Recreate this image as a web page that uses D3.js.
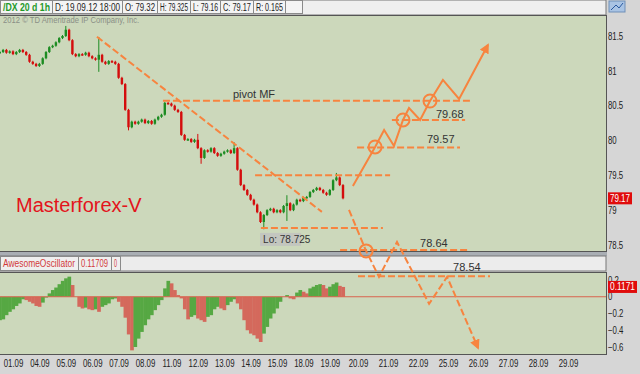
<!DOCTYPE html>
<html>
<head>
<meta charset="utf-8">
<title>DX 1h - Masterforex-V</title>
<script src="https://d3js.org/d3.v7.min.js"></script>
<style>
  body { margin: 0; background: #d6d6d6; }
  svg { display: block; font-family: "Liberation Sans", Arial, sans-serif; }
  .axis text { font-size: 10px; fill: #222; }
  .axis path, .axis line { display: none; }
</style>
</head>
<body>
<svg width="640" height="374"></svg>
<script>
// day labels on the time axis (index = trading day)
var dayLabels = ["01.09", "04.09", "05.09", "06.09", "07.09", "08.09", "11.09", "12.09", "13.09",
  "14.09", "15.09", "18.09", "19.09", "20.09", "21.09", "22.09", "25.09", "26.09", "27.09", "28.09", "29.09"];
var priceTicks = [81.5, 81, 80.5, 80, 79.5, 79, 78.5];
var aoTicks = [0.2, 0, -0.2, -0.4, -0.6];

// closes, one bar every 3 hours
var firstTime = -0.5, barStep = 1 / 8;
var closes = [81.27, 81.30, 81.26, 81.28, 81.24, 81.27, 81.30, 81.27, 81.23, 81.13,
  81.10, 81.07, 81.10, 81.18, 81.27, 81.34, 81.36, 81.41, 81.47, 81.50,
  81.59, 81.44, 81.24, 81.21, 81.24, 81.23, 81.26, 81.21, 81.18, 81.16,
  81.23, 81.13, 81.10, 81.14, 81.13, 81.10, 80.90, 80.81, 80.44, 80.19,
  80.27, 80.24, 80.27, 80.30, 80.25, 80.28, 80.24, 80.30, 80.34, 80.37,
  80.54, 80.53, 80.50, 80.44, 80.41, 80.08, 80.01, 80.02, 79.98, 80.01,
  79.89, 79.75, 79.86, 79.84, 79.89, 79.82, 79.78, 79.81, 79.84, 79.86,
  79.82, 79.89, 79.58, 79.36, 79.29, 79.22, 79.15, 79.08, 78.97, 78.83,
  78.93, 79.00, 79.02, 78.97, 79.00, 78.97, 79.06, 79.10, 79.00, 79.08,
  79.15, 79.13, 79.18, 79.19, 79.26, 79.29, 79.32, 79.29, 79.25, 79.22,
  79.29, 79.43, 79.47, 79.36, 79.17];
// [bar index, high, low] for the visible spikes
var wicks = [[20, 81.63, null], [30, 81.47, 81.00], [39, null, 80.16], [60, 80.08, null],
  [61, null, 79.68], [71, 79.96, null], [80, null, 78.74], [87, 79.20, 78.86], [102, 79.52, null]];

var aoValues = [-0.28, -0.27, -0.22, -0.18, -0.15, -0.11, -0.08, -0.03, -0.04, -0.06,
  -0.08, -0.11, -0.12, -0.07, -0.01, 0.04, 0.08, 0.11, 0.15, 0.19,
  0.22, 0.24, 0.14, 0.00, -0.12, -0.14, -0.13, -0.15, -0.16, -0.15,
  -0.18, -0.12, -0.10, -0.08, -0.03, -0.02, -0.06, -0.12, -0.25, -0.45,
  -0.64, -0.60, -0.50, -0.42, -0.34, -0.27, -0.22, -0.16, -0.10, -0.04,
  0.10, 0.19, 0.16, 0.08, 0.02, -0.02, -0.15, -0.27, -0.24, -0.22,
  -0.26, -0.28, -0.30, -0.24, -0.22, -0.15, -0.12, -0.14, -0.16, -0.10,
  -0.06, -0.03, -0.08, -0.15, -0.28, -0.40, -0.44, -0.46, -0.50, -0.54,
  -0.44, -0.36, -0.26, -0.20, -0.14, -0.06, 0.00, 0.02, -0.02, -0.03,
  0.05, 0.08, 0.06, 0.04, 0.10, 0.12, 0.14, 0.15, 0.14, 0.10,
  0.12, 0.15, 0.17, 0.13, 0.117];

// hand drawn analysis, [day, price]
var trendLine = [[3.18, 81.49], [11.70, 78.975]];
var levelLines = [[5.68, 16.73, 80.57], [9.17, 14.07, 79.50], [9.39, 13.83, 78.745],
  [12.97, 16.40, 79.90], [14.13, 16.57, 80.295], [12.39, 16.73, 78.43], [13.00, 17.40, 78.05]];
var levelLabels = [["pivot MF", 8.33, 80.61], ["79.68", 15.60, 80.32], ["79.57", 15.30, 79.965],
  ["78.64", 15.07, 78.473], ["78.54", 16.17, 78.128]];
var bullPath = [[12.83, 79.348], [13.57, 79.907], [13.87, 80.151], [14.20, 79.922], [14.50, 80.295],
  [14.70, 80.467], [15.07, 80.295], [15.40, 80.567], [15.83, 80.869], [16.37, 80.596], [17.33, 81.371]];
var bullCircles = [[13.57, 79.907], [14.50, 80.295], [15.40, 80.567]];
var bearPath = [[12.70, 79.004], [13.27, 78.415], [13.70, 78.042], [14.30, 78.544],
  [15.37, 77.655], [15.97, 78.042], [17.00, 77.024]];
var bearCircles = [[13.27, 78.415]];
var lowDay = 9.36, lowPrice = 78.745, lowText = "Lo: 78.725";
var lastClose = 79.17, lastAO = 0.1171;

var plotRight = 606, mainTop = 15, mainBottom = 251, aoTop = 272, aoBottom = 354;
var bg = "#ccd8bb", orange = "#f7843f";

var svg = d3.select("svg");

var x = d3.scaleLinear().domain([0, 12.5, 20]).range([13, 343, 568]);
var y = d3.scaleLinear().domain([78.5, 81.5]).range([245, 36]);
var yAO = d3.scaleLinear().domain([-0.6, 0.2]).range([347, 280]);

// squeeze text horizontally, the platform font is narrow
function squeeze(sel, k, maxW) {
  sel.each(function() {
    var w = this.getComputedTextLength() * k;
    if (maxW) w = Math.min(w, maxW);
    d3.select(this).attr("textLength", w).attr("lengthAdjust", "spacingAndGlyphs");
  });
}

// frame
svg.append("rect").attr("width", 640).attr("height", 374).attr("fill", "#d6d6d6");
svg.append("rect").attr("x", 0).attr("y", mainTop).attr("width", plotRight).attr("height", mainBottom - mainTop)
  .attr("fill", bg);
svg.append("rect").attr("x", 0).attr("y", aoTop).attr("width", plotRight).attr("height", aoBottom - aoTop)
  .attr("fill", bg);

// header
var headerCells = [["/DX 20 d 1h", 52], ["D: 19.09.12 18:00", 70], ["O: 79.32", 35], ["H: 79.325", 33],
  ["L: 79.16", 30], ["C: 79.17", 33], ["R: 0.165", 32], ["", 17]];
svg.append("rect").attr("x", 0).attr("y", 0).attr("width", plotRight).attr("height", mainTop)
  .attr("fill", "#efefef").attr("stroke", "#777");
var hx = 0;
headerCells.forEach(function(c, i) {
  svg.append("rect").attr("x", hx + 0.5).attr("y", 0.5).attr("width", c[1]).attr("height", mainTop - 2)
    .attr("fill", "#f4f4f4").attr("stroke", "#8a8a8a");
  var t = svg.append("text").attr("x", hx + 3).attr("y", 11).attr("font-size", 10)
    .attr("font-weight", i ? "normal" : "bold")
    .attr("fill", i ? "#222" : "#1f9a2a").text(c[0]);
  if (c[0]) squeeze(t, 1, c[1] - 5);
  hx += c[1];
});
squeeze(svg.append("text").attr("x", 3).attr("y", 23).attr("font-size", 9).attr("fill", "#8a8f86")
  .text("2012 \u00a9 TD Ameritrade IP Company, Inc."), 0.85);
// top right icon
svg.append("rect").attr("x", 609).attr("y", 1).attr("width", 16).attr("height", 11)
  .attr("fill", "#a9c4e4").attr("stroke", "#6f8fb8");
svg.append("path").attr("d", "M611,10 L616,5 L619,8 L623,3").attr("stroke", "#2a5aa0").attr("fill", "none");

// separator + oscillator header
svg.append("rect").attr("x", 0).attr("y", mainBottom).attr("width", plotRight + 1).attr("height", 5)
  .attr("fill", "#a9aeb4");
svg.append("rect").attr("x", 0).attr("y", 256).attr("width", plotRight).attr("height", 15)
  .attr("fill", "#ececec").attr("stroke", "#777");
var aoCells = [["AwesomeOscillator", 78], ["0.11709", 33], ["0", 9]];
var ax = 0;
aoCells.forEach(function(c) {
  svg.append("rect").attr("x", ax + 0.5).attr("y", 256.5).attr("width", c[1]).attr("height", 14)
    .attr("fill", "#efefef").attr("stroke", "#8a8a8a");
  var t = svg.append("text").attr("x", ax + 3).attr("y", 267).attr("font-size", 10).attr("fill", "#d23a3a").text(c[0]);
  squeeze(t, 1, c[1] - 6);
  ax += c[1];
});

// candles
var candles = closes.map(function(c, i) {
  var o = i ? closes[i - 1] : c;
  return { t: firstTime + i * barStep, o: o, c: c, h: Math.max(o, c), l: Math.min(o, c) };
});
wicks.forEach(function(w) {
  if (w[1] != null) candles[w[0]].h = w[1];
  if (w[2] != null) candles[w[0]].l = w[2];
});

svg.append("clipPath").attr("id", "mainClip").append("rect")
  .attr("x", 0).attr("y", mainTop).attr("width", plotRight).attr("height", mainBottom - mainTop);
var priceG = svg.append("g").attr("clip-path", "url(#mainClip)");

function candleColor(d) { return d.c >= d.o ? "#1c8c22" : "#d40d0d"; }

priceG.selectAll(".wick").data(candles).enter().append("line")
  .attr("x1", function(d) { return x(d.t); }).attr("x2", function(d) { return x(d.t); })
  .attr("y1", function(d) { return y(d.h) - 1; }).attr("y2", function(d) { return y(d.l) + 1; })
  .attr("stroke", candleColor).attr("stroke-width", 1);
priceG.selectAll(".body").data(candles).enter().append("rect")
  .attr("x", function(d) { return x(d.t) - 1.2; }).attr("width", 2.4)
  .attr("y", function(d) { return y(Math.max(d.o, d.c)); })
  .attr("height", function(d) { return Math.max(1.5, y(Math.min(d.o, d.c)) - y(Math.max(d.o, d.c))); })
  .attr("fill", candleColor);

// awesome oscillator
var aoG = svg.append("g");
var barW = x(barStep) - x(0);
aoG.selectAll("rect").data(aoValues).enter().append("rect")
  .attr("x", function(d, i) { return x(firstTime + i * barStep) - barW / 2; })
  .attr("width", barW + 0.4)
  .attr("y", function(d) { return yAO(Math.max(0, d)); })
  .attr("height", function(d) { return Math.abs(yAO(d) - yAO(0)); })
  .attr("fill", function(d, i) { return (i === 0 || d >= aoValues[i - 1]) ? "#56a843" : "#d4695c"; });
svg.append("line").attr("x1", 0).attr("x2", plotRight).attr("y1", yAO(0)).attr("y2", yAO(0))
  .attr("stroke", "#d9634e").attr("stroke-width", 1);

// panel borders
[[mainTop, mainBottom], [aoTop, aoBottom]].forEach(function(p) {
  svg.append("rect").attr("x", -1).attr("y", p[0] + 0.5).attr("width", plotRight + 1.5)
    .attr("height", p[1] - p[0]).attr("fill", "none").attr("stroke", "#555");
});

// axes
svg.append("g").attr("class", "axis").attr("transform", "translate(" + plotRight + ",0)")
  .call(d3.axisRight(y).tickValues(priceTicks).tickSize(0).tickPadding(2).tickFormat(d3.format("")));
svg.append("g").attr("class", "axis").attr("transform", "translate(" + plotRight + ",0)")
  .call(d3.axisRight(yAO).tickValues(aoTicks).tickSize(0).tickPadding(2).tickFormat(d3.format("")));
svg.append("g").attr("class", "axis").attr("transform", "translate(0," + (aoBottom + 1) + ")")
  .call(d3.axisBottom(x).tickValues(d3.range(dayLabels.length)).tickSize(0).tickPadding(5)
    .tickFormat(function(i) { return dayLabels[i]; }));
squeeze(svg.selectAll(".axis text"), 0.78);

// brand
svg.append("text").attr("x", 16).attr("y", 212).attr("font-size", 20).attr("fill", "#e3141c")
  .text("Masterforex-V");

// analysis drawings
var ann = svg.append("g");
var defs = svg.append("defs");
defs.append("marker").attr("id", "arrow").attr("viewBox", "0 0 10 10").attr("refX", 8).attr("refY", 5)
  .attr("markerWidth", 5).attr("markerHeight", 5).attr("orient", "auto")
  .append("path").attr("d", "M0,0 L10,5 L0,10 Z").attr("fill", orange);

var line = d3.line().x(function(d) { return x(d[0]); }).y(function(d) { return y(d[1]); });

ann.append("path").attr("d", line(trendLine)).attr("fill", "none").attr("stroke", orange)
  .attr("stroke-width", 2).attr("stroke-dasharray", "7,3");
ann.selectAll(".level").data(levelLines).enter().append("line")
  .attr("x1", function(d) { return x(d[0]); }).attr("x2", function(d) { return x(d[1]); })
  .attr("y1", function(d) { return y(d[2]); }).attr("y2", function(d) { return y(d[2]); })
  .attr("stroke", orange).attr("stroke-width", 2).attr("stroke-dasharray", "7,3");
ann.selectAll(".lbl").data(levelLabels).enter().append("text")
  .attr("x", function(d) { return x(d[1]); }).attr("y", function(d) { return y(d[2]); })
  .attr("font-size", 11).attr("fill", "#333").text(function(d) { return d[0]; });

ann.append("path").attr("d", line(bullPath)).attr("fill", "none").attr("stroke", orange)
  .attr("stroke-width", 2).attr("marker-end", "url(#arrow)");
ann.append("path").attr("d", line(bearPath)).attr("fill", "none").attr("stroke", orange)
  .attr("stroke-width", 2).attr("stroke-dasharray", "7,3").attr("marker-end", "url(#arrow)");
ann.selectAll(".circ").data(bullCircles.concat(bearCircles)).enter().append("circle")
  .attr("cx", function(d) { return x(d[0]); }).attr("cy", function(d) { return y(d[1]); })
  .attr("r", 6.5).attr("fill", "none").attr("stroke", orange).attr("stroke-width", 2);

// low label
var lo = ann.append("g").attr("transform", "translate(" + x(lowDay) + "," + (y(lowPrice) + 5) + ")");
lo.append("rect").attr("width", 41).attr("height", 13).attr("fill", "#c3c6bf");
lo.append("text").attr("x", 3).attr("y", 10).attr("font-size", 10).attr("fill", "#333").text(lowText);

// last value badges
function badge(yy, txt, w) {
  var g = svg.append("g").attr("transform", "translate(608," + (yy - 6) + ")");
  g.append("rect").attr("width", w).attr("height", 12).attr("fill", "#e00c0c");
  var t = g.append("text").attr("x", 2).attr("y", 9.5).attr("font-size", 10).attr("fill", "#fff").text(txt);
  squeeze(t, 1, w - 4);
}
badge(y(lastClose), d3.format(".2f")(lastClose), 24);
badge(yAO(lastAO), d3.format(".4f")(lastAO), 29);
</script>
</body>
</html>
